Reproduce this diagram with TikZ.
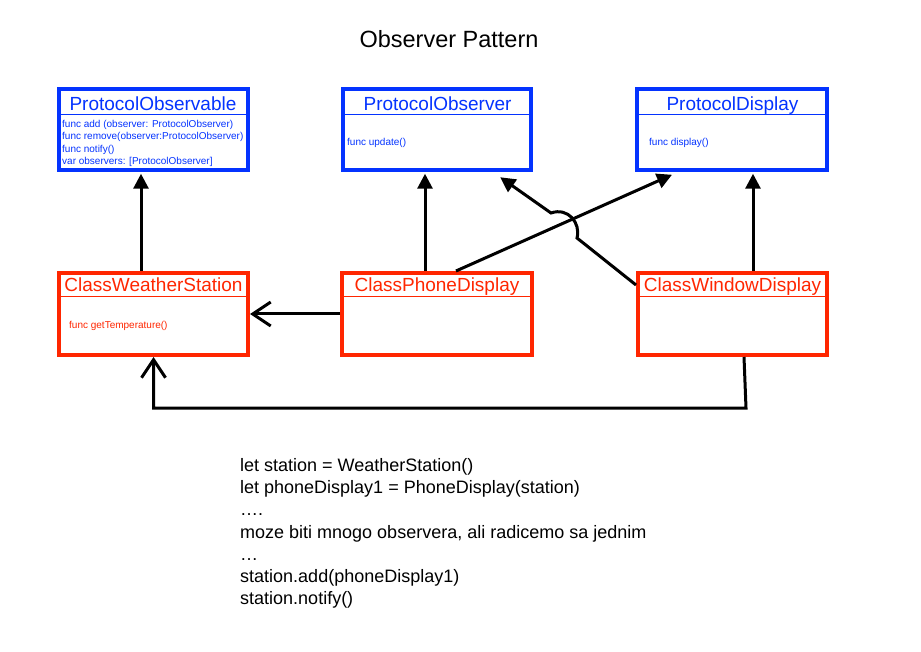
\documentclass[tikz,border=0pt]{standalone}
\usepackage{fontspec}
\setmainfont{Liberation Sans}
\usetikzlibrary{arrows.meta,calc}
\definecolor{uBlue}{RGB}{4,51,255}
\definecolor{uRed}{RGB}{255,38,0}
\newcommand{\fsz}[2]{\fontsize{#1}{#2}\selectfont}
\begin{document}
\begin{tikzpicture}[x=1pt,y=-1pt,
  bluebox/.style={draw=uBlue, line width=4.5pt, minimum width=#1, minimum height=81pt, inner sep=0pt},
  redbox/.style={draw=uRed, line width=4pt, minimum width=#1, minimum height=82pt, inner sep=0pt},
  btitle/.style={anchor=base, text=uBlue, font=\fsz{19}{23}, inner sep=0pt},
  rtitle/.style={anchor=base, text=uRed, font=\fsz{19}{23}, inner sep=0pt},
  bsmall/.style={anchor=base west, text=uBlue, font=\fsz{10}{12.3}, inner sep=0pt},
  rsmall/.style={anchor=base west, text=uRed, font=\fsz{10}{12.3}, inner sep=0pt},
  bsep/.style={draw=uBlue, line width=1pt},
  rsep/.style={draw=uRed, line width=1pt},
  tri/.style={line width=3pt, -{Triangle[length=15pt,width=15pt]}},
  barb/.style={line width=3pt, -{Straight Barb[length=18pt,width=24pt]}},
  codeline/.style={anchor=base west, font=\fsz{18}{21}, inner sep=0pt}
]
\fill[white] (0,0) rectangle (921,652);
\useasboundingbox (0,0) rectangle (921,652);

\node[anchor=base, font=\fsz{23.5}{28}, inner sep=0pt] (title) at (449,47.3) {Observer Pattern};

% blue boxes
\node[bluebox=189pt] (pobs) at (153.5,129.5) {};
\draw[bsep] (61,115) -- (246,115);
\node[btitle] (pobsT) at (153,111) {ProtocolObservable};
\node[bsmall] (pobsB1) at (62,127.5) {func add (observer: ProtocolObserver)};
\node[bsmall] (pobsB2) at (62,139.8) {func remove(observer:ProtocolObserver)};
\node[bsmall] (pobsB3) at (62,152.1) {func notify()};
\node[bsmall] (pobsB4) at (62,164.4) {var observers: [ProtocolObserver]};

\node[bluebox=188pt] (pob) at (437,129.5) {};
\draw[bsep] (345,115) -- (529,115);
\node[btitle] (pobT) at (437.5,111) {ProtocolObserver};
\node[bsmall] (pobB) at (347,146) {func update()};

\node[bluebox=190pt] (pd) at (732,129.5) {};
\draw[bsep] (639,115) -- (825,115);
\node[btitle] (pdT) at (732.5,111) {ProtocolDisplay};
\node[bsmall] (pdB) at (649,146) {func display()};

% red boxes
\node[redbox=189pt] (cws) at (153.5,314) {};
\draw[rsep] (61,297) -- (246,297);
\node[rtitle] (cwsT) at (153.5,291.5) {ClassWeatherStation};
\node[rsmall] (cwsB) at (69,328) {func getTemperature()};

\node[redbox=190pt] (cpd) at (437,314) {};
\draw[rsep] (344,297) -- (530,297);
\node[rtitle] (cpdT) at (437,291.5) {ClassPhoneDisplay};

\node[redbox=189pt] (cwd) at (732.5,314) {};
\draw[rsep] (640,297) -- (825,297);
\node[rtitle] (cwdT) at (732.5,291.5) {ClassWindowDisplay};

% connectors
\draw[tri] ([xshift=-12.5pt]cws.north) -- ([xshift=-12.5pt,yshift=-1.5pt]pobs.south);
\draw[tri] ([xshift=-12pt]cpd.north) -- ([xshift=-12pt,yshift=-1.5pt]pob.south);
\draw[tri] ([xshift=20.5pt]cwd.north) -- ([xshift=21pt,yshift=-1.5pt]pd.south);
\draw[tri] ([xshift=19pt]cpd.north) -- ([xshift=-60pt,yshift=-2.5pt]pd.south);

\coordinate (hopA) at (577,238);
\coordinate (hopB) at (551,213);
\draw[tri] ([yshift=29pt]cwd.west) -- (hopA) .. controls (581,223) and (568,207) .. (hopB) -- ([xshift=-33pt,yshift=-5pt]pob.south east);

\draw[barb] (cpd.west) -- (cws.east);

\coordinate (w1) at (746,408);
\draw[barb] ([xshift=11.5pt]cwd.south) -- (w1) -- (w1 -| cws.south) -- (cws.south);

% code text
\node[codeline] (l1) at (240,471.5) {let station = WeatherStation()};
\node[codeline] (l2) at (240,493.7) {let phoneDisplay1 = PhoneDisplay(station)};
\node[codeline] (l3) at (240,515.9) {….};
\node[codeline] (l4) at (240,538.1) {moze biti mnogo observera, ali radicemo sa jednim};
\node[codeline] (l5) at (240,560.3) {…};
\node[codeline] (l6) at (240,582.5) {station.add(phoneDisplay1)};
\node[codeline] (l7) at (240,604.7) {station.notify()};
\end{tikzpicture}
\end{document}
